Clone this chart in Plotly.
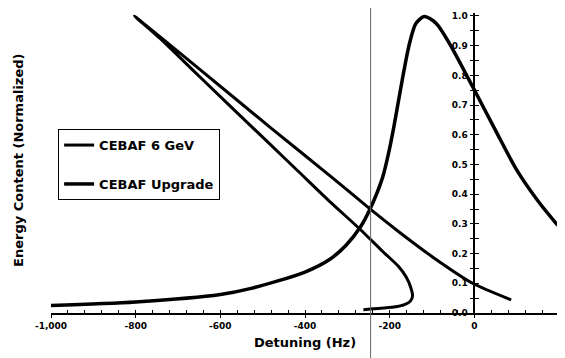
import plotly.graph_objects as go

# ---- data ----
x_range = [-1000, 200]
y_range = [0, 1.01]
x_tick_vals = [-1000, -800, -600, -400, -200, 0, 200]
x_tick_text = ["-1,000", "-800", "-600", "-400", "-200", "0", "200"]
y_tick_vals = [0.0, 0.1, 0.2, 0.3, 0.4, 0.5, 0.6, 0.7, 0.8, 0.9, 1.0]
y_tick_text = ["0.0", "0.1", "0.2", "0.3", "0.4", "0.5", "0.6", "0.7", "0.8", "0.9", "1.0"]
marker_hz = -245

series_names = ["CEBAF 6 GeV", "CEBAF Upgrade"]

# CEBAF 6 GeV: upper branch (from +87 Hz up to the tip), then lower branch down to the fold
six_hz = [87, -4, -98, -177, -248, -335, -478, -650, -740, -803,
          -740, -650, -484, -413, -342, -270, -217, -180, -161, -150,
          -146, -151, -165, -190, -240, -262]
six_val = [0.044, 0.100, 0.188, 0.272, 0.352, 0.455, 0.620, 0.822, 0.927, 1.0,
           0.921, 0.797, 0.570, 0.473, 0.376, 0.282, 0.208, 0.158, 0.121, 0.085,
           0.058, 0.040, 0.028, 0.020, 0.014, 0.011]

upg_hz = [-1000, -800, -600, -530, -400, -342, -303, -268, -248, -217, -201,
          -189, -169, -153, -138, -118, -90, -59, -4, 50, 100, 150, 197]
upg_val = [0.025, 0.037, 0.062, 0.082, 0.138, 0.180, 0.228, 0.292, 0.345, 0.455, 0.548,
           0.635, 0.795, 0.908, 0.975, 0.998, 0.975, 0.908, 0.762, 0.615, 0.482, 0.378, 0.295]

FONT = "DejaVu Sans"
tick_font = dict(family=FONT, size=9, color="black", weight="bold")

fig = go.Figure()
fig.add_trace(go.Scatter(x=six_hz, y=six_val, mode="lines", name=series_names[0],
                         legendgroup="a",
                         line=dict(color="black", width=3, shape="spline", smoothing=0.6)))
fig.add_trace(go.Scatter(x=upg_hz, y=upg_val, mode="lines", name=series_names[1],
                         legendgroup="b",
                         line=dict(color="black", width=3.5, shape="spline", smoothing=0.8)))
# helper traces so the overlay tick axes exist
fig.add_trace(go.Scatter(x=[], y=[], xaxis="x2", yaxis="y", legendgroup="b",
                         showlegend=False, hoverinfo="skip"))
fig.add_trace(go.Scatter(x=[], y=[], xaxis="x", yaxis="y2", legendgroup="b",
                         showlegend=False, hoverinfo="skip"))

y_pos = (0 - x_range[0]) / (x_range[1] - x_range[0])

# the page body has an 8px margin, so the figure is 8px smaller than the window
fig.update_layout(
    width=557, height=350,
    margin=dict(l=43, r=6, t=5, b=45, autoexpand=False),
    paper_bgcolor="white", plot_bgcolor="white",
    showlegend=True,
    legend=dict(x=0.014, y=0.613, xanchor="left", yanchor="top",
                bgcolor="white", bordercolor="black", borderwidth=1,
                font=dict(family=FONT, size=13, color="black", weight="bold"),
                traceorder="grouped", tracegroupgap=19, itemwidth=30),
    xaxis=dict(range=x_range, showgrid=False, zeroline=False, automargin=False,
               showline=True, linecolor="black", linewidth=1.5,
               tickvals=x_tick_vals, ticktext=x_tick_text,
               ticks="outside", ticklen=3, tickwidth=1, tickcolor="black",
               tickfont=tick_font,
               title=dict(text="Detuning (Hz)", standoff=8,
                          font=dict(family=FONT, size=13, color="black", weight="bold"))),
    xaxis2=dict(range=x_range, overlaying="x", anchor="y", side="bottom", automargin=False,
                showgrid=False, zeroline=False, showline=False, showticklabels=False,
                tickvals=x_tick_vals, ticks="inside", ticklen=3, tickwidth=1, tickcolor="black",
                minor=dict(tick0=-1000, dtick=40, ticks="inside", ticklen=3,
                           tickwidth=1, tickcolor="black", showgrid=False)),
    yaxis=dict(range=y_range, anchor="free", position=y_pos, side="left", automargin=False,
               showgrid=False, zeroline=False,
               showline=True, linecolor="black", linewidth=1.5,
               tickvals=y_tick_vals, ticktext=y_tick_text,
               ticks="outside", ticklen=4, tickwidth=1, tickcolor="black",
               minor=dict(tick0=0.05, dtick=0.1, ticks="outside", ticklen=4,
                          tickwidth=1, tickcolor="black", showgrid=False),
               tickfont=tick_font),
    yaxis2=dict(range=y_range, overlaying="y", anchor="free", position=y_pos, side="left",
                automargin=False,
                showgrid=False, zeroline=False, showline=False, showticklabels=False,
                tickvals=y_tick_vals, ticks="inside", ticklen=4, tickwidth=1, tickcolor="black",
                minor=dict(tick0=0.05, dtick=0.1, ticks="inside", ticklen=4,
                           tickwidth=1, tickcolor="black", showgrid=False)),
    shapes=[dict(type="line", xref="x", yref="paper", x0=marker_hz, x1=marker_hz,
                 y0=-0.2, y1=1.1, line=dict(color="#666666", width=1))],
    annotations=[dict(text="Energy Content (Normalized)", textangle=-90,
                      xref="paper", yref="paper", x=-0.065, y=0.51,
                      xanchor="center", yanchor="middle", showarrow=False,
                      font=dict(family=FONT, size=13, color="black", weight="bold"))],
)

fig.write_html("out.html")
